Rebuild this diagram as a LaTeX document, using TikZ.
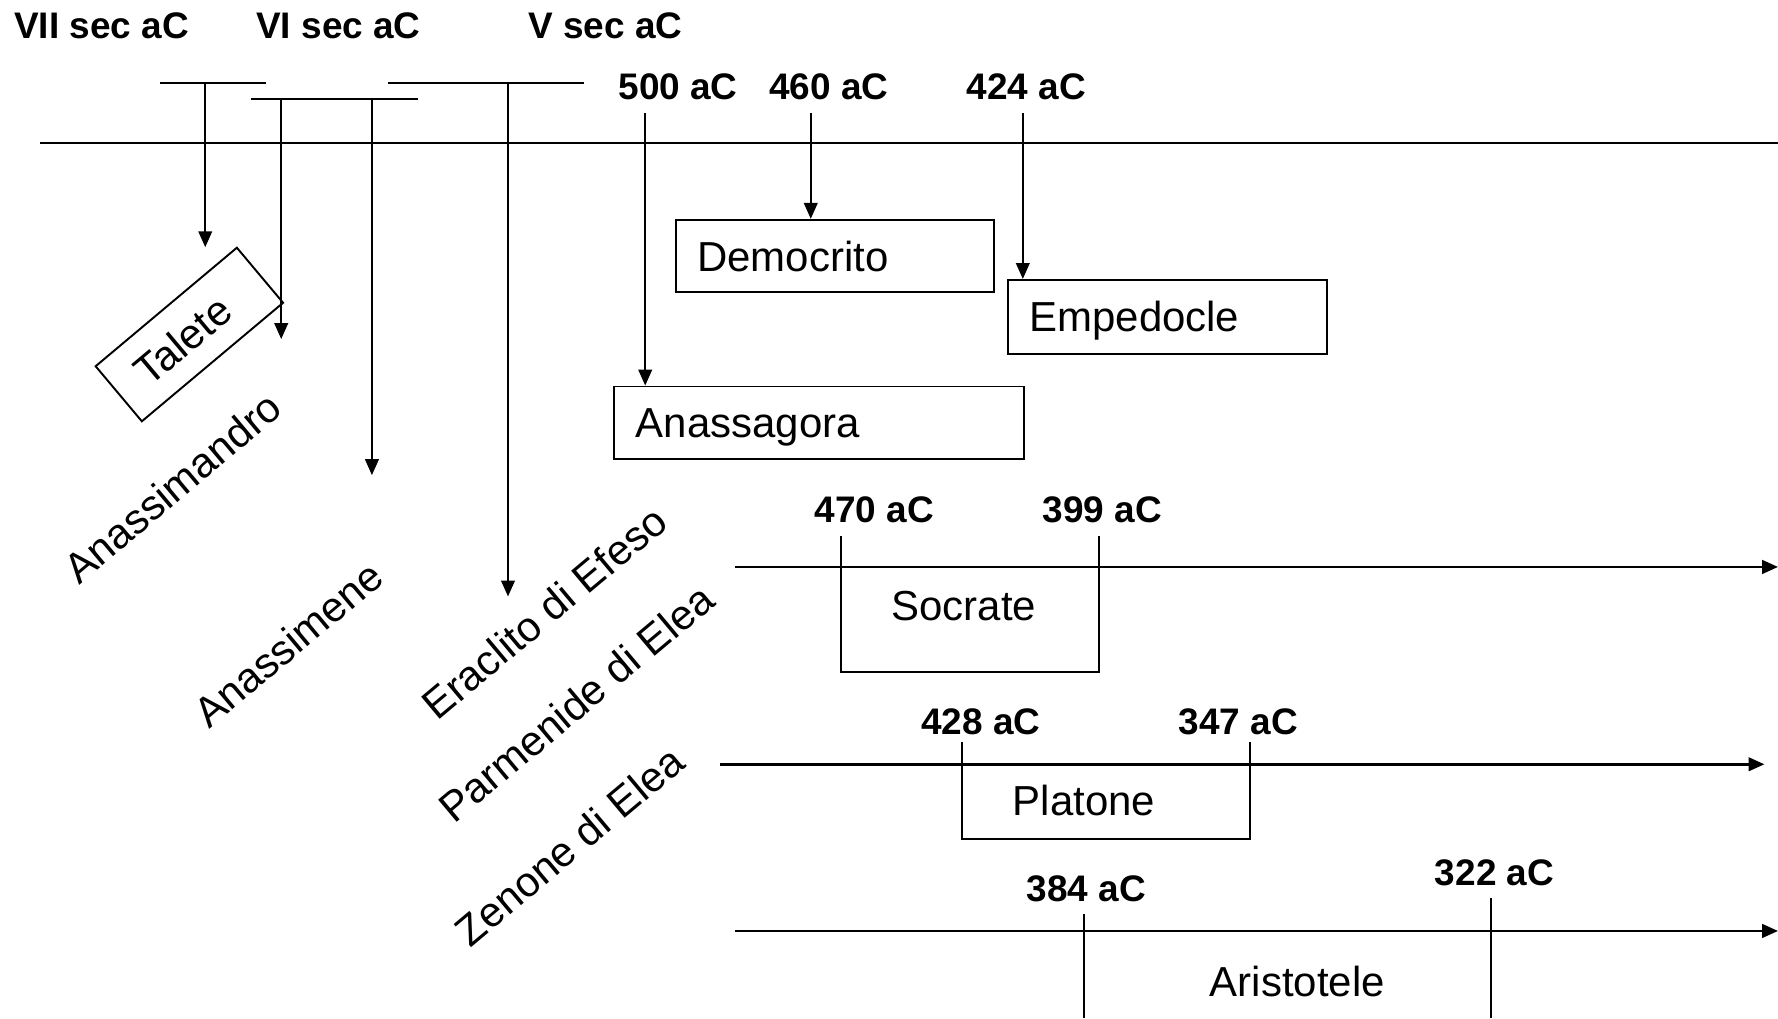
\documentclass[tikz,border=0pt]{standalone}
\usepackage{fontspec}
\setmainfont{Liberation Sans}
\usetikzlibrary{arrows.meta}
\begin{document}
\begin{tikzpicture}[x=0.5pt,y=-0.5pt,
  lbl/.style={font=\fontsize{16.3}{18}\selectfont\bfseries, inner sep=0pt, anchor=base},
  nm/.style={font=\fontsize{18.5}{22}\selectfont, inner sep=0pt},
  ln/.style={line width=0.85pt},
  axis/.style={line width=1.1pt},
  arr/.style={-{Triangle[length=7pt,width=6pt]}},
  pbox/.style={draw, line width=0.85pt, nm, inner xsep=9.5pt, inner ysep=0pt,
    text height=13.3pt, text depth=0pt, align=left, anchor=north west, minimum height=32pt},
]
\useasboundingbox (0,0) rectangle (1568,898);

% century labels
\node[lbl] (s7) at (89.5,34) {VII sec aC};
\node[lbl] (s6) at (298.5,34) {VI sec aC};
\node[lbl] (s5) at (534,34) {V sec aC};

% century bars
\coordinate (bA1) at (141,73); \coordinate (bA2) at (235,73);
\coordinate (bB1) at (221,87); \coordinate (bB2) at (369,87);
\coordinate (bC1) at (342,73); \coordinate (bC2) at (515,73);
\draw[ln] (bA1) -- (bA2);
\draw[ln] (bB1) -- (bB2);
\draw[ln] (bC1) -- (bC2);

% main line
\coordinate (m0) at (35,126); \coordinate (m1) at (1568,126);
\draw[ln] (m0) -- (m1);

% Talete
\node[draw, ln, nm, rotate=40, minimum width=81.3pt, minimum height=31.7pt, inner sep=0pt] (tal) at (167,295) {\hspace*{-8pt}Talete};
\coordinate (vA) at (181,73); \coordinate (tA) at (181,218);
\draw[ln,arr] (vA) -- (tA);

% rotated names
\node[nm, rotate=40] (anx) at (152,430) {Anassimandro};
\node[nm, rotate=40] (anm) at (254,568) {Anassimene};
\node[nm, rotate=40] (era) at (480,540) {Eraclito di Efeso};
\node[nm, rotate=40] (par) at (508,620) {Parmenide di Elea};
\node[nm, rotate=40] (zen) at (502,746) {Zenone di Elea};

\coordinate (vB1) at (248,87); \coordinate (tB1) at (248,299);
\coordinate (vB2) at (328,87); \coordinate (tB2) at (328,419);
\coordinate (vC) at (448,73); \coordinate (tC) at (448,526);
\draw[ln,arr] (vB1) -- (tB1);
\draw[ln,arr] (vB2) -- (tB2);
\draw[ln,arr] (vC) -- (tC);

% dated philosophers
\node[lbl] (d500) at (598,88) {500 aC};
\node[lbl] (d460) at (731,88) {460 aC};
\node[lbl] (d424) at (905,88) {424 aC};
\node[pbox, text width=121.5pt] (demo) at (595,193) {Democrito};
\node[pbox, text width=121.5pt, minimum height=32.5pt] (emp) at (888,246) {Empedocle};
\node[pbox, text width=161.5pt] (anas) at (541,340) {Anassagora};
\coordinate (t500) at (569,100);
\coordinate (t460) at (715,100);
\coordinate (t424) at (902,100);
\draw[ln,arr] (t500) -- (t500 |- anas.north);
\draw[ln,arr] (t460) -- (t460 |- demo.north);
\draw[ln,arr] (t424) -- (t424 |- emp.north);

% Socrate
\node[lbl] (d470) at (771,461) {470 aC};
\node[lbl] (d399) at (972,461) {399 aC};
\coordinate (r1a) at (648,500); \coordinate (r1b) at (1568,500);
\draw[axis,arr] (r1a) -- (r1b);
\coordinate (so1) at (742,473); \coordinate (so2) at (742,593);
\coordinate (so3) at (969,593); \coordinate (so4) at (969,473);
\draw[ln] (so1) -- (so2) -- (so3) -- (so4);
\node[nm, anchor=base] (soc) at (850,547) {Socrate};

% Platone
\node[lbl] (d428) at (865,648) {428 aC};
\node[lbl] (d347) at (1092,648) {347 aC};
\coordinate (r2a) at (635,674); \coordinate (r2b) at (1556,674);
\draw[axis,arr] (r2a) -- (r2b);
\coordinate (pl1) at (848,654); \coordinate (pl2) at (848,740);
\coordinate (pl3) at (1102,740); \coordinate (pl4) at (1102,654);
\draw[ln] (pl1) -- (pl2) -- (pl3) -- (pl4);
\node[nm, anchor=base] (pla) at (956,719) {Platone};

% Aristotele
\node[lbl] (d384) at (958,795) {384 aC};
\node[lbl] (d322) at (1318,781) {322 aC};
\coordinate (r3a) at (648,821); \coordinate (r3b) at (1568,821);
\draw[axis,arr] (r3a) -- (r3b);
\coordinate (ar1) at (956,806); \coordinate (ar2) at (956,898);
\coordinate (ar3) at (1315,792); \coordinate (ar4) at (1315,898);
\draw[ln] (ar1) -- (ar2);
\draw[ln] (ar3) -- (ar4);
\node[nm, anchor=base] (ari) at (1144,879) {Aristotele};
\end{tikzpicture}
\end{document}
